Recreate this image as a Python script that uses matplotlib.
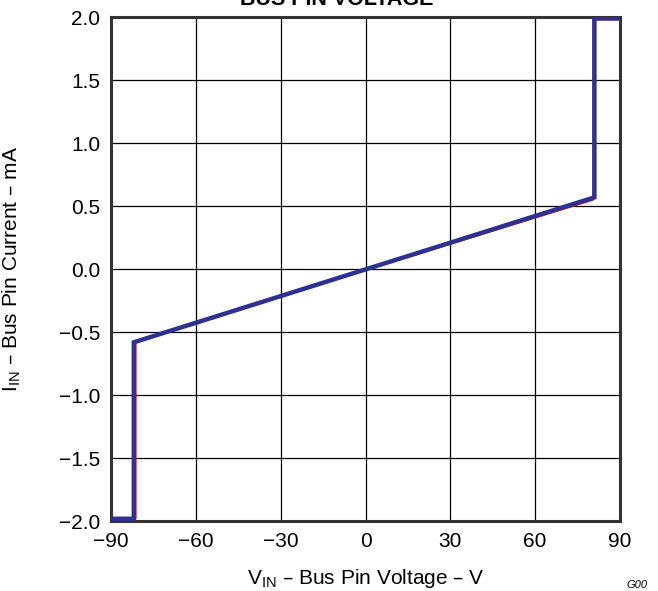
import numpy as np
import matplotlib
matplotlib.use('Agg')
import matplotlib.pyplot as plt

plt.rcParams['font.family'] = ['Liberation Sans', 'DejaVu Sans']

# curve (V, mA)
v_blue = [-90, -82, -82, 81, 81, 90]
i_blue = [-1.98, -1.98, -0.58, 0.57, 1.99, 1.99]
v_red = [-90, -81.3, -81.3, 80.6, 80.6, 90]
i_red = [-1.98, -1.98, -0.57, 0.55, 1.98, 1.98]

xticks = [-90, -60, -30, 0, 30, 60, 90]
yticks = [-2.0, -1.5, -1.0, -0.5, 0.0, 0.5, 1.0, 1.5, 2.0]

fig = plt.figure(figsize=(6.58, 5.91), dpi=100)
ax = fig.add_axes([0.169, 0.118, 0.773, 0.853])

ax.plot(v_red, i_red, color='#e8101e', lw=1.2, zorder=3)
ax.plot(v_blue, i_blue, color='#2e3192', lw=3.2, zorder=4, solid_joinstyle='miter')

ax.set_xlim(-90, 90)
ax.set_ylim(-2.0, 2.0)
ax.set_xticks(xticks)
ax.set_yticks(yticks)
ax.set_xticklabels([str(t).replace('-', '\u2212') for t in xticks])
ax.set_yticklabels([f'{t:.1f}'.replace('-', '\u2212') for t in yticks])
ax.tick_params(length=0, labelsize=15, pad=8)
ax.grid(True, color='black', lw=0.9)
ax.set_axisbelow(True)
for s in ax.spines.values():
    s.set_linewidth(2.2)
    s.set_color('#333333')

xl = ax.set_xlabel('V$_{\\mathregular{IN}}$ \u2013 Bus Pin Voltage \u2013 V', fontsize=15)
yl = ax.set_ylabel('I$_{\\mathregular{IN}}$ \u2013 Bus Pin Current \u2013 mA', fontsize=15)
ax.xaxis.set_label_coords(0.5, -0.113)
xl.set_va('center')
ax.yaxis.set_label_coords(-0.195, 0.5)
yl.set_va('center')

# title is clipped by the top edge in the original
fig.text(0.512, 0.992, 'BUS PIN VOLTAGE', ha='center', va='baseline',
         fontsize=15.5, fontweight='bold')
fig.text(0.952, 0.002, 'G00', ha='left', va='bottom', fontsize=8, style='italic')

fig.savefig('out.png', dpi=100)
